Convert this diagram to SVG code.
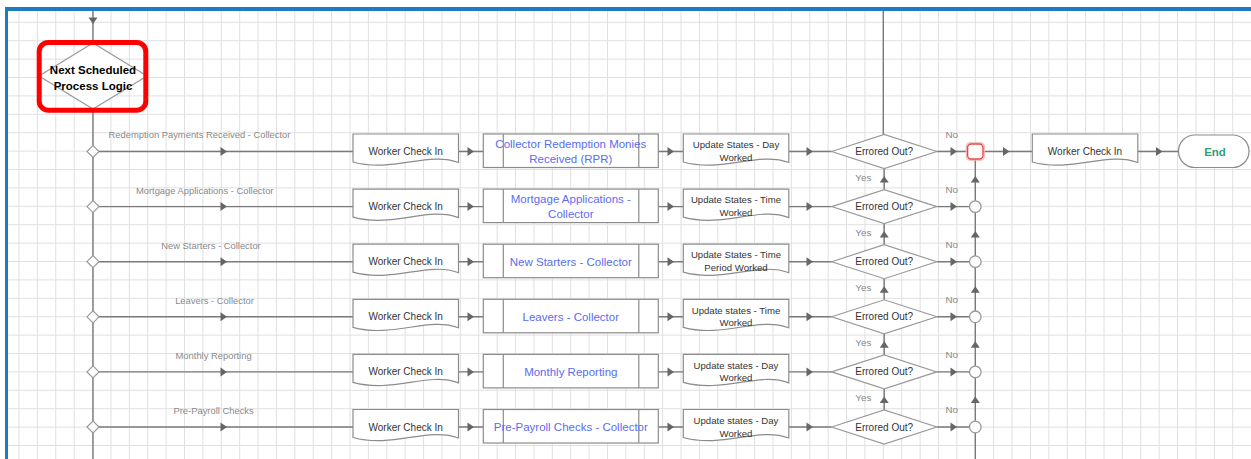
<svg xmlns="http://www.w3.org/2000/svg" xmlns:xlink="http://www.w3.org/1999/xlink" width="1251" height="459" viewBox="0 0 1251 459">
<style>
text{font-family:"Liberation Sans",Arial,sans-serif}
.grid{stroke:#e0e0e0;stroke-width:1;fill:none}
.ln{stroke:#7a7a7a;stroke-width:1.4;fill:none}
.ah{fill:#666}
.shp{fill:#fff;stroke:#8c8c8c;stroke-width:1.2}
.dia{fill:#fff;stroke:#9a9a9a;stroke-width:1.2}
.t{font-size:10px;fill:#333;text-anchor:middle}
.tu{font-size:9.6px;fill:#333;text-anchor:middle}
.lbl{font-size:9.4px;fill:#8a8a8a;text-anchor:middle}
.yn{font-size:9.8px;fill:#888;text-anchor:middle}
.blue{font-size:11.5px;fill:#5b6cf0;text-anchor:middle}
.circ{fill:#fff;stroke:#9a9a9a;stroke-width:1.3}
</style>
<defs>
<path id="doc" d="M0,0 H105.5 V28.5 C75,17 40,39 0,28 Z"/>
<path id="arR" d="M0,0 L-6.5,-4.5 L-6.5,4.5 Z"/>
<path id="arU" d="M0,0 L-4.5,6.5 L4.5,6.5 Z"/>
<path id="arD" d="M0,0 L-4.5,-6.5 L4.5,-6.5 Z"/>
<path id="err" d="M-52.5,0 L0,-17 L52.5,0 L0,17 Z"/>
<path id="bdia" d="M-6,0 L0,-6 L6,0 L0,6 Z"/>
<g id="sub"><rect x="0" y="0" width="175" height="33.5"/><path d="M20,0 V33.5 M155.5,0 V33.5"/></g>
</defs>
<rect width="1251" height="459" fill="#fff"/>
<path class="grid" d="M18.99,11V459M37.38,11V459M55.77,11V459M74.16,11V459M92.55,11V459M110.94,11V459M129.33,11V459M147.72,11V459M166.11,11V459M184.5,11V459M202.89,11V459M221.28,11V459M239.67,11V459M258.06,11V459M276.45,11V459M294.84,11V459M313.23,11V459M331.62,11V459M350.01,11V459M368.4,11V459M386.79,11V459M405.18,11V459M423.57,11V459M441.96,11V459M460.35,11V459M478.74,11V459M497.13,11V459M515.52,11V459M533.91,11V459M552.3,11V459M570.69,11V459M589.08,11V459M607.47,11V459M625.86,11V459M644.25,11V459M662.64,11V459M681.03,11V459M699.42,11V459M717.81,11V459M736.2,11V459M754.59,11V459M772.98,11V459M791.37,11V459M809.76,11V459M828.15,11V459M846.54,11V459M864.93,11V459M883.32,11V459M901.71,11V459M920.1,11V459M938.49,11V459M956.88,11V459M975.27,11V459M993.66,11V459M1012.05,11V459M1030.44,11V459M1048.83,11V459M1067.22,11V459M1085.61,11V459M1104,11V459M1122.39,11V459M1140.78,11V459M1159.17,11V459M1177.56,11V459M1195.95,11V459M1214.34,11V459M1232.73,11V459"/>
<path class="grid" d="M8,22.3H1251M8,40.7H1251M8,59.1H1251M8,77.5H1251M8,95.9H1251M8,114.3H1251M8,132.7H1251M8,151.1H1251M8,169.5H1251M8,187.9H1251M8,206.3H1251M8,224.7H1251M8,243.1H1251M8,261.5H1251M8,279.9H1251M8,298.3H1251M8,316.7H1251M8,335.1H1251M8,353.5H1251M8,371.9H1251M8,390.3H1251M8,408.7H1251M8,427.1H1251M8,445.5H1251"/>
<rect x="5" y="7" width="1246" height="4" fill="#1b7cc4"/>
<rect x="5" y="7" width="3" height="452" fill="#1b7cc4"/>

<g id="connectors">
<path class="ln" d="M93,11 V43 M93,109 V459 M883.3,11 V134.5 M975.3,160 V459"/>
<path class="ln" d="M93,151.5 H353 M458.5,151.5 H483.3 M658.3,151.5 H683.3 M789,151.5 H831.7 M936.7,151.5 H967 M983.5,151.5 H1032.3 M1137.8,151.5 H1178.5"/>
<path class="ln" d="M93,206.6 H353 M458.5,206.6 H483.3 M658.3,206.6 H683.3 M789,206.6 H831.7 M936.7,206.6 H969.5"/>
<path class="ln" d="M93,261.7 H353 M458.5,261.7 H483.3 M658.3,261.7 H683.3 M789,261.7 H831.7 M936.7,261.7 H969.5"/>
<path class="ln" d="M93,316.8 H353 M458.5,316.8 H483.3 M658.3,316.8 H683.3 M789,316.8 H831.7 M936.7,316.8 H969.5"/>
<path class="ln" d="M93,371.9 H353 M458.5,371.9 H483.3 M658.3,371.9 H683.3 M789,371.9 H831.7 M936.7,371.9 H969.5"/>
<path class="ln" d="M93,427 H353 M458.5,427 H483.3 M658.3,427 H683.3 M789,427 H831.7 M936.7,427 H969.5"/>
<path class="ln" d="M884.2,168.5 V189.6 M884.2,223.6 V244.7 M884.2,278.7 V299.8 M884.2,333.8 V354.9 M884.2,388.9 V410"/>
<g class="ah">
<use xlink:href="#arD" x="93" y="24"/>
<use xlink:href="#arR" x="227" y="151.5"/><use xlink:href="#arR" x="474" y="151.5"/><use xlink:href="#arR" x="674" y="151.5"/><use xlink:href="#arR" x="813" y="151.5"/><use xlink:href="#arR" x="957" y="151.5"/><use xlink:href="#arR" x="1009.5" y="151.5"/><use xlink:href="#arR" x="1162.5" y="151.5"/>
<use xlink:href="#arR" x="227" y="206.6"/><use xlink:href="#arR" x="474" y="206.6"/><use xlink:href="#arR" x="674" y="206.6"/><use xlink:href="#arR" x="813" y="206.6"/><use xlink:href="#arR" x="957" y="206.6"/>
<use xlink:href="#arR" x="227" y="261.7"/><use xlink:href="#arR" x="474" y="261.7"/><use xlink:href="#arR" x="674" y="261.7"/><use xlink:href="#arR" x="813" y="261.7"/><use xlink:href="#arR" x="957" y="261.7"/>
<use xlink:href="#arR" x="227" y="316.8"/><use xlink:href="#arR" x="474" y="316.8"/><use xlink:href="#arR" x="674" y="316.8"/><use xlink:href="#arR" x="813" y="316.8"/><use xlink:href="#arR" x="957" y="316.8"/>
<use xlink:href="#arR" x="227" y="371.9"/><use xlink:href="#arR" x="474" y="371.9"/><use xlink:href="#arR" x="674" y="371.9"/><use xlink:href="#arR" x="813" y="371.9"/><use xlink:href="#arR" x="957" y="371.9"/>
<use xlink:href="#arR" x="227" y="427"/><use xlink:href="#arR" x="474" y="427"/><use xlink:href="#arR" x="674" y="427"/><use xlink:href="#arR" x="813" y="427"/><use xlink:href="#arR" x="957" y="427"/>
<use xlink:href="#arU" x="884.2" y="176"/><use xlink:href="#arU" x="884.2" y="231.1"/><use xlink:href="#arU" x="884.2" y="286.2"/><use xlink:href="#arU" x="884.2" y="341.3"/><use xlink:href="#arU" x="884.2" y="396.4"/>
<use xlink:href="#arU" x="975.3" y="176"/><use xlink:href="#arU" x="975.3" y="231.1"/><use xlink:href="#arU" x="975.3" y="286.2"/><use xlink:href="#arU" x="975.3" y="341.3"/><use xlink:href="#arU" x="975.3" y="396.4"/>
</g>
<text class="lbl" x="199.5" y="138">Redemption Payments Received - Collector</text>
<text class="lbl" x="204.7" y="193.5">Mortgage Applications - Collector</text>
<text class="lbl" x="211" y="248.5">New Starters - Collector</text>
<text class="lbl" x="214.5" y="303.5">Leavers - Collector</text>
<text class="lbl" x="213.6" y="358.5">Monthly Reporting</text>
<text class="lbl" x="213.6" y="413.5">Pre-Payroll Checks</text>
<text class="yn" x="951.7" y="137.5">No</text><text class="yn" x="951.7" y="192.6">No</text><text class="yn" x="951.7" y="247.7">No</text><text class="yn" x="951.7" y="302.8">No</text><text class="yn" x="951.7" y="357.9">No</text><text class="yn" x="951.7" y="413">No</text>
<text class="yn" x="863.3" y="180.8">Yes</text><text class="yn" x="863.3" y="235.9">Yes</text><text class="yn" x="863.3" y="291">Yes</text><text class="yn" x="863.3" y="346.1">Yes</text><text class="yn" x="863.3" y="401.2">Yes</text>
</g>

<g id="next-scheduled">
<path class="dia" d="M39,76 L93,43 L147,76 L93,109 Z"/>
<rect x="39.2" y="42.5" width="106.6" height="67.7" rx="9" fill="none" stroke="#ff0000" stroke-width="5"/>
<text x="93" y="74" font-size="11.5" font-weight="bold" fill="#000" text-anchor="middle">Next Scheduled</text>
<text x="93" y="90" font-size="11.5" font-weight="bold" fill="#000" text-anchor="middle">Process Logic</text>
</g>

<g id="branches" class="dia">
<use xlink:href="#bdia" x="93" y="151.5"/><use xlink:href="#bdia" x="93" y="206.6"/><use xlink:href="#bdia" x="93" y="261.7"/><use xlink:href="#bdia" x="93" y="316.8"/><use xlink:href="#bdia" x="93" y="371.9"/><use xlink:href="#bdia" x="93" y="427"/>
</g>

<g id="wci-1" transform="translate(353,134)"><use xlink:href="#doc" class="shp"/><text class="t" x="52.7" y="21">Worker Check In</text></g>
<g id="wci-2" transform="translate(353,189.1)"><use xlink:href="#doc" class="shp"/><text class="t" x="52.7" y="21">Worker Check In</text></g>
<g id="wci-3" transform="translate(353,244.2)"><use xlink:href="#doc" class="shp"/><text class="t" x="52.7" y="21">Worker Check In</text></g>
<g id="wci-4" transform="translate(353,299.3)"><use xlink:href="#doc" class="shp"/><text class="t" x="52.7" y="21">Worker Check In</text></g>
<g id="wci-5" transform="translate(353,354.4)"><use xlink:href="#doc" class="shp"/><text class="t" x="52.7" y="21">Worker Check In</text></g>
<g id="wci-6" transform="translate(353,409.5)"><use xlink:href="#doc" class="shp"/><text class="t" x="52.7" y="21">Worker Check In</text></g>

<g id="sub-1" transform="translate(483.3,134)"><use xlink:href="#sub" class="shp"/><text class="blue" x="87.5" y="14">Collector Redemption Monies</text><text class="blue" x="87.5" y="29">Received (RPR)</text></g>
<g id="sub-2" transform="translate(483.3,189.1)"><use xlink:href="#sub" class="shp"/><text class="blue" x="87.5" y="14">Mortgage Applications -</text><text class="blue" x="87.5" y="29.3">Collector</text></g>
<g id="sub-3" transform="translate(483.3,244.2)"><use xlink:href="#sub" class="shp"/><text class="blue" x="87.5" y="21.5">New Starters - Collector</text></g>
<g id="sub-4" transform="translate(483.3,299.3)"><use xlink:href="#sub" class="shp"/><text class="blue" x="87.5" y="21.5">Leavers - Collector</text></g>
<g id="sub-5" transform="translate(483.3,354.4)"><use xlink:href="#sub" class="shp"/><text class="blue" x="87.5" y="21.5">Monthly Reporting</text></g>
<g id="sub-6" transform="translate(483.3,409.5)"><use xlink:href="#sub" class="shp"/><text class="blue" x="87.5" y="21.5">Pre-Payroll Checks - Collector</text></g>

<g id="upd-1" transform="translate(683.3,134)"><use xlink:href="#doc" class="shp"/><text class="tu" x="52.7" y="14.3">Update States - Day</text><text class="tu" x="52.7" y="27">Worked</text></g>
<g id="upd-2" transform="translate(683.3,189.1)"><use xlink:href="#doc" class="shp"/><text class="tu" x="52.7" y="14.3">Update States - Time</text><text class="tu" x="52.7" y="27">Worked</text></g>
<g id="upd-3" transform="translate(683.3,244.2)"><use xlink:href="#doc" class="shp"/><text class="tu" x="52.7" y="14.3">Update States - Time</text><text class="tu" x="52.7" y="27">Period Worked</text></g>
<g id="upd-4" transform="translate(683.3,299.3)"><use xlink:href="#doc" class="shp"/><text class="tu" x="52.7" y="14.3">Update states - Time</text><text class="tu" x="52.7" y="27">Worked</text></g>
<g id="upd-5" transform="translate(683.3,354.4)"><use xlink:href="#doc" class="shp"/><text class="tu" x="52.7" y="14.3">Update states - Day</text><text class="tu" x="52.7" y="27">Worked</text></g>
<g id="upd-6" transform="translate(683.3,409.5)"><use xlink:href="#doc" class="shp"/><text class="tu" x="52.7" y="14.3">Update states - Day</text><text class="tu" x="52.7" y="27">Worked</text></g>

<g id="err-1" transform="translate(884.2,151.5)"><use xlink:href="#err" class="dia"/><text class="t" x="0" y="3.5">Errored Out?</text></g>
<g id="err-2" transform="translate(884.2,206.6)"><use xlink:href="#err" class="dia"/><text class="t" x="0" y="3.5">Errored Out?</text></g>
<g id="err-3" transform="translate(884.2,261.7)"><use xlink:href="#err" class="dia"/><text class="t" x="0" y="3.5">Errored Out?</text></g>
<g id="err-4" transform="translate(884.2,316.8)"><use xlink:href="#err" class="dia"/><text class="t" x="0" y="3.5">Errored Out?</text></g>
<g id="err-5" transform="translate(884.2,371.9)"><use xlink:href="#err" class="dia"/><text class="t" x="0" y="3.5">Errored Out?</text></g>
<g id="err-6" transform="translate(884.2,427)"><use xlink:href="#err" class="dia"/><text class="t" x="0" y="3.5">Errored Out?</text></g>

<g id="merge-1">
<rect x="966.3" y="142.8" width="18" height="17.4" rx="4" fill="none" stroke="#f7b4b4" stroke-width="1.2"/>
<rect x="967.6" y="144" width="15.4" height="15" rx="3.5" fill="#fff" stroke="#e84848" stroke-width="1.4"/>
</g>
<g id="merge-2"><circle class="circ" cx="975.3" cy="206.6" r="5.8"/></g>
<g id="merge-3"><circle class="circ" cx="975.3" cy="261.7" r="5.8"/></g>
<g id="merge-4"><circle class="circ" cx="975.3" cy="316.8" r="5.8"/></g>
<g id="merge-5"><circle class="circ" cx="975.3" cy="371.9" r="5.8"/></g>
<g id="merge-6"><circle class="circ" cx="975.3" cy="427" r="5.8"/></g>

<g id="wci-final" transform="translate(1032.3,134)"><use xlink:href="#doc" class="shp"/><text class="t" x="52.7" y="21">Worker Check In</text></g>

<g id="end"><rect class="shp" x="1178.5" y="135" width="70.5" height="32.5" rx="16.25"/><text x="1215" y="156" font-size="11.5" font-weight="bold" fill="#2e9e78" text-anchor="middle">End</text></g>
</svg>
